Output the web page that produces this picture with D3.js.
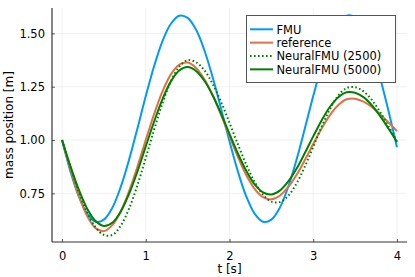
<!DOCTYPE html>
<html>
<head>
<meta charset="utf-8">
<script src="https://cdn.jsdelivr.net/npm/d3@7"></script>
<style>
  body { margin: 0; background: #fff; }
  text { font-family: "DejaVu Sans", sans-serif; fill: #000; }
</style>
</head>
<body>
<svg id="chart"></svg>
<script>
// data
let time = [0, 0.1, 0.2, 0.3, 0.4, 0.5, 0.6, 0.7, 0.8, 0.9,
            1.0, 1.1, 1.2, 1.3, 1.4, 1.5, 1.6, 1.7, 1.8, 1.9,
            2.0, 2.1, 2.2, 2.3, 2.4, 2.5, 2.6, 2.7, 2.8, 2.9,
            3.0, 3.1, 3.2, 3.3, 3.4, 3.5, 3.6, 3.7, 3.8, 3.9, 4.0];

let fmu = [1.000, 0.853, 0.736, 0.655, 0.617, 0.627, 0.682, 0.779, 0.907, 1.054,
           1.206, 1.347, 1.464, 1.545, 1.583, 1.573, 1.518, 1.421, 1.293, 1.146,
           0.994, 0.853, 0.736, 0.655, 0.617, 0.627, 0.682, 0.779, 0.907, 1.054,
           1.206, 1.347, 1.464, 1.545, 1.583, 1.575, 1.522, 1.428, 1.290, 1.135, 0.966];

let reference = [1.000, 0.863, 0.739, 0.644, 0.587, 0.573, 0.601, 0.665, 0.759, 0.875,
                 1.000, 1.122, 1.228, 1.308, 1.354, 1.363, 1.338, 1.285, 1.209, 1.117,
                 1.018, 0.921, 0.836, 0.771, 0.732, 0.722, 0.739, 0.779, 0.836, 0.906,
                 0.981, 1.054, 1.117, 1.164, 1.191, 1.194, 1.180, 1.155, 1.120, 1.082, 1.042];

let neural2500 = [1.000, 0.873, 0.757, 0.660, 0.591, 0.555, 0.555, 0.598, 0.678, 0.788,
                  0.916, 1.049, 1.173, 1.275, 1.344, 1.374, 1.365, 1.327, 1.262, 1.178,
                  1.081, 0.980, 0.885, 0.804, 0.744, 0.711, 0.709, 0.738, 0.796, 0.876,
                  0.968, 1.062, 1.145, 1.209, 1.244, 1.248, 1.228, 1.188, 1.131, 1.064, 0.993];

let neural5000 = [1.000, 0.878, 0.767, 0.678, 0.620, 0.597, 0.612, 0.664, 0.747, 0.852,
                  0.970, 1.087, 1.192, 1.275, 1.326, 1.342, 1.324, 1.278, 1.209, 1.123,
                  1.029, 0.937, 0.856, 0.792, 0.755, 0.745, 0.763, 0.805, 0.865, 0.939,
                  1.017, 1.092, 1.156, 1.201, 1.224, 1.222, 1.201, 1.163, 1.112, 1.053, 0.991];

let seriesNames = ["FMU", "reference", "NeuralFMU (2500)", "NeuralFMU (5000)"];
let xTicks = [0, 1, 2, 3, 4];
let yTicks = [0.75, 1.00, 1.25, 1.50];

// sizes
let widthSVG = 415;
let heightSVG = 277;
let margins = { top: 8, bottom: 35, right: 8, left: 52 };
let width = widthSVG - margins.left - margins.right;
let height = heightSVG - margins.top - margins.bottom;

let SVG = d3.select('svg#chart')
            .attr('width', widthSVG)
            .attr('height', heightSVG);

let SVGG = SVG.append('g')
              .attr('transform', `translate(${margins.left}, ${margins.top})`);

// scales
let x = d3.scaleLinear().domain([-0.12, 4.12]).range([0, width]);
let y = d3.scaleLinear().domain([0.522, 1.619]).range([height, 0]);

// grid lines
SVGG.append('g')
    .selectAll('line.gx')
    .data(xTicks)
    .enter()
    .append('line')
    .attr('x1', d => x(d)).attr('x2', d => x(d))
    .attr('y1', 0).attr('y2', height)
    .style('stroke', '#000').style('stroke-opacity', 0.1).style('stroke-width', 0.6);

SVGG.append('g')
    .selectAll('line.gy')
    .data(yTicks)
    .enter()
    .append('line')
    .attr('y1', d => y(d)).attr('y2', d => y(d))
    .attr('x1', 0).attr('x2', width)
    .style('stroke', '#000').style('stroke-opacity', 0.1).style('stroke-width', 0.6);

// axes
let xAxis = d3.axisBottom(x).tickValues(xTicks).tickSize(-3).tickPadding(8).tickFormat(d3.format('d'));
let yAxis = d3.axisLeft(y).tickValues(yTicks).tickSize(-3).tickPadding(7).tickFormat(d3.format('.2f'));

let gx = SVGG.append('g')
    .attr('transform', `translate(0, ${height})`)
    .call(xAxis);
let gy = SVGG.append('g')
    .call(yAxis);

[gx, gy].forEach(g => {
  g.select('.domain').attr('d', null);
  g.selectAll('.tick line').style('stroke', '#333').style('stroke-width', 0.8);
  g.selectAll('.tick text').style('font-size', '11.5px').style('font-family', '"DejaVu Sans", sans-serif').attr('fill', '#000');
});
gx.selectAll('.tick text').attr('dy', '0.85em');

// frame lines (left and bottom only)
SVGG.append('line').attr('x1', 0).attr('x2', width).attr('y1', height).attr('y2', height)
    .style('stroke', '#333').style('stroke-width', 1.2);
SVGG.append('line').attr('x1', 0).attr('x2', 0).attr('y1', 0).attr('y2', height)
    .style('stroke', '#333').style('stroke-width', 1.2);

// axis titles
SVGG.append('text')
    .text('t [s]')
    .attr('x', width / 2)
    .attr('y', height + 31)
    .style('text-anchor', 'middle')
    .style('font-size', '12px');

SVGG.append('text')
    .text('mass position [m]')
    .attr('transform', `translate(${-margins.left + 12.5}, ${height / 2}) rotate(-90)`)
    .style('text-anchor', 'middle')
    .style('font-size', '12px');

// lines
let series = [
  { name: seriesNames[0], values: fmu, color: '#009af9', dash: null },
  { name: seriesNames[1], values: reference, color: '#e26f46', dash: null },
  { name: seriesNames[2], values: neural2500, color: '#008000', dash: '1.6,2.4' },
  { name: seriesNames[3], values: neural5000, color: '#008000', dash: null }
];

let line = d3.line()
  .x((d, i) => x(time[i]))
  .y(d => y(d))
  .curve(d3.curveCatmullRom);

SVGG.selectAll('path.series')
    .data(series)
    .enter()
    .append('path')
    .attr('class', 'series')
    .attr('d', d => line(d.values))
    .style('fill', 'none')
    .style('stroke', d => d.color)
    .style('stroke-width', 2)
    .style('stroke-dasharray', d => d.dash);

// legend
let legend = SVG.append('g').attr('transform', 'translate(246, 15)');
legend.append('rect')
      .attr('x', 0.5).attr('y', 0.5)
      .attr('width', 149).attr('height', 67)
      .style('fill', '#fff')
      .style('stroke', '#555')
      .style('stroke-width', 1);

let legRows = legend.selectAll('g.legRow')
    .data(series)
    .enter()
    .append('g')
    .attr('transform', (d, i) => `translate(0, ${14.3 + i * 13.35})`);

legRows.append('line')
    .attr('x1', 4).attr('x2', 27)
    .attr('y1', 0).attr('y2', 0)
    .style('stroke', d => d.color)
    .style('stroke-width', 2)
    .style('stroke-dasharray', d => d.dash);

legRows.append('text')
    .text(d => d.name)
    .attr('x', 30.5)
    .attr('y', 4.3)
    .style('font-size', '11.5px');
</script>
</body>
</html>
